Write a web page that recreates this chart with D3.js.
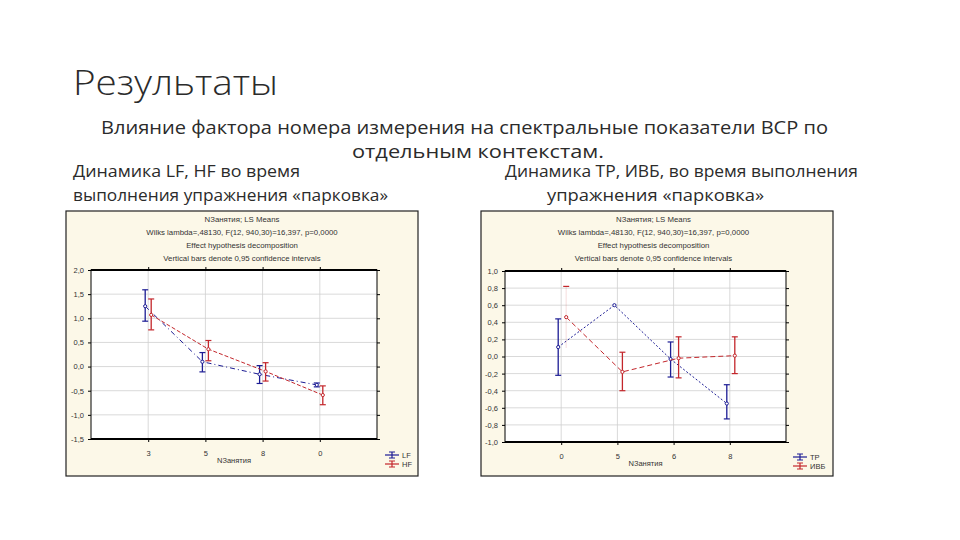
<!DOCTYPE html>
<html>
<head>
<meta charset="utf-8">
<script src="https://cdn.jsdelivr.net/npm/d3@7"></script>
<style>
  html, body { margin: 0; padding: 0; background: #fff; }
  svg { display: block; }
  .slide-text { font-family: "Open Sans", sans-serif; fill: #2b2b2b; }
  .chart-text { font-family: "Liberation Sans", Arial, sans-serif; fill: #333; }
  .grid line { stroke: #cfcfcf; stroke-width: 0.8; }
  .axis path { display: none; }
  .axis line { stroke: #000; }
  .axis text { font-family: "Liberation Sans", Arial, sans-serif; font-size: 7.5px; fill: #333; }
</style>
</head>
<body>
<svg id="slide" width="960" height="540"></svg>
<script>
/* slide texts */
const title = "Результаты";
const subtitleLines = [
  "Влияние фактора номера измерения на спектральные показатели ВСР по",
  "отдельным контекстам.",
];
const leftCaption = ["Динамика LF, HF во время", "выполнения упражнения «парковка»"];
const rightCaption = ["Динамика ТР, ИВБ, во время выполнения", "упражнения «парковка»"];

/* chart header (same on both pictures) */
const headerLines = [
  "NЗанятия; LS Means",
  "Wilks lambda=,48130, F(12, 940,30)=16,397, p=0,0000",
  "Effect hypothesis decomposition",
  "Vertical bars denote 0,95 confidence intervals",
];
const xLabel = "NЗанятия";

/* left chart: LF / HF */
const leftCategories = ["3", "5", "8", "0"];
const leftTicks = [2.0, 1.5, 1.0, 0.5, 0.0, -0.5, -1.0, -1.5];
const lfMean = [1.25, 0.10, -0.16, -0.38];
const lfLow = [0.94, -0.11, -0.35, -0.42];
const lfHigh = [1.59, 0.29, 0.02, -0.34];
const hfMean = [1.07, 0.36, -0.10, -0.59];
const hfLow = [0.76, 0.12, -0.30, -0.79];
const hfHigh = [1.40, 0.54, 0.08, -0.40];

/* right chart: ТР / ИВБ */
const rightCategories = ["0", "5", "6", "8"];
const rightTicks = [1.0, 0.8, 0.6, 0.4, 0.2, 0.0, -0.2, -0.4, -0.6, -0.8, -1.0];
const tpMean = [0.11, 0.60, -0.03, -0.55];
const tpLow = [-0.22, 0.60, -0.24, -0.73];
const tpHigh = [0.44, 0.60, 0.17, -0.33];
const ivbMean = [0.46, -0.18, -0.02, 0.01];
const ivbLow = [0.10, -0.40, -0.25, -0.20];
const ivbHigh = [0.82, 0.05, 0.23, 0.23];

const BLUE = "#1c1c94";
const RED = "#c3262b";
const fmt = (v) => d3.format(".1f")(v).replace(".", ",").replace("−", "-");

const svg = d3.select("#slide");

/* slide heading */
svg.append("text").attr("class", "slide-text")
  .attr("x", 73).attr("y", 95)
  .attr("font-size", 35).attr("font-weight", 300)
  .attr("textLength", 205).attr("lengthAdjust", "spacingAndGlyphs")
  .text(title);

svg.append("text").attr("class", "slide-text")
  .attr("x", 101).attr("y", 134).attr("font-size", 18)
  .attr("textLength", 727).attr("lengthAdjust", "spacingAndGlyphs")
  .text(subtitleLines[0]);
svg.append("text").attr("class", "slide-text")
  .attr("x", 352).attr("y", 158).attr("font-size", 18)
  .attr("textLength", 252).attr("lengthAdjust", "spacingAndGlyphs")
  .text(subtitleLines[1]);

const caps = [
  { t: leftCaption[0], x: 73, y: 177, w: 227 },
  { t: leftCaption[1], x: 73, y: 201, w: 315 },
  { t: rightCaption[0], x: 505, y: 177, w: 353 },
  { t: rightCaption[1], x: 547, y: 201, w: 217 },
];
caps.forEach((c) => {
  svg.append("text").attr("class", "slide-text")
    .attr("x", c.x).attr("y", c.y).attr("font-size", 16)
    .attr("textLength", c.w).attr("lengthAdjust", "spacingAndGlyphs")
    .text(c.t);
});

function drawPanel(cfg) {
  const g = svg.append("g");

  /* picture frame */
  g.append("rect")
    .attr("x", cfg.box[0]).attr("y", cfg.box[1])
    .attr("width", cfg.box[2]).attr("height", cfg.box[3])
    .attr("fill", "#fcf8e8").attr("stroke", "#222").attr("stroke-width", 1.2);

  const [L, T, R, B] = cfg.plot;
  const x = d3.scalePoint().domain(cfg.categories).range([L, R]).padding(1);
  const y = d3.scaleLinear().domain(cfg.yDomain).range([B, T]);

  g.append("rect").attr("x", L).attr("y", T).attr("width", R - L).attr("height", B - T)
    .attr("fill", "#fff");

  /* header */
  const cx = (L + R) / 2 + 8;
  headerLines.forEach((h, i) => {
    g.append("text").attr("class", "chart-text")
      .attr("x", cx).attr("y", cfg.box[1] + 11 + i * 13)
      .attr("text-anchor", "middle").attr("font-size", 7.8)
      .text(h);
  });

  /* grid */
  g.append("g").attr("class", "grid").selectAll("line")
    .data(cfg.ticks).join("line")
    .attr("x1", L).attr("x2", R).attr("y1", (d) => y(d)).attr("y2", (d) => y(d));
  g.append("g").attr("class", "grid").selectAll("line")
    .data(cfg.categories).join("line")
    .attr("y1", T).attr("y2", B).attr("x1", (d) => x(d)).attr("x2", (d) => x(d));

  /* axes */
  g.append("g").attr("class", "axis").attr("transform", `translate(${L},0)`)
    .call(d3.axisLeft(y).tickValues(cfg.ticks).tickFormat(fmt).tickSize(3).tickPadding(4));
  g.append("g").attr("class", "axis").attr("transform", `translate(${R},0)`)
    .call(d3.axisRight(y).tickValues(cfg.ticks).tickFormat("").tickSize(3));
  g.append("g").attr("class", "axis").attr("transform", `translate(0,${B})`)
    .call(d3.axisBottom(x).tickSize(3).tickPadding(9));
  g.append("g").attr("class", "axis").attr("transform", `translate(0,${T})`)
    .call(d3.axisTop(x).tickFormat("").tickSize(3));

  g.append("rect").attr("x", L).attr("y", T).attr("width", R - L).attr("height", B - T)
    .attr("fill", "none").attr("stroke", "#000").attr("stroke-width", 1);
  g.append("line").attr("x1", L).attr("x2", R).attr("y1", T).attr("y2", T)
    .attr("stroke", "#000").attr("stroke-width", 1.8);
  g.append("line").attr("x1", L).attr("x2", R).attr("y1", B).attr("y2", B)
    .attr("stroke", "#000").attr("stroke-width", 1.8);

  g.append("text").attr("class", "chart-text")
    .attr("x", cx - 8).attr("y", B + 24).attr("text-anchor", "middle")
    .attr("font-size", 7.5).text(xLabel);

  /* series */
  cfg.series.forEach((s) => {
    const pts = cfg.categories.map((c, i) => ({
      x: x(c) + s.dx, m: s.mean[i], lo: s.low[i], hi: s.high[i], i,
    }));
    g.append("path").datum(pts)
      .attr("fill", "none").attr("stroke", s.color).attr("stroke-width", 1)
      .attr("stroke-dasharray", s.dash)
      .attr("d", d3.line().x((d) => d.x).y((d) => y(d.m)));

    const eb = g.append("g").selectAll("g").data(pts.filter((d) => d.hi !== d.lo)).join("g");
    eb.append("line")
      .attr("x1", (d) => d.x).attr("x2", (d) => d.x)
      .attr("y1", (d) => y(d.lo)).attr("y2", (d) => y(d.hi))
      .attr("stroke", s.color).attr("stroke-width", 1.3)
      .attr("stroke-opacity", (d) => (s.faint && s.faint.includes(d.i) ? 0.12 : 1));
    eb.append("line")
      .attr("x1", (d) => d.x - 3).attr("x2", (d) => d.x + 3)
      .attr("y1", (d) => y(d.hi)).attr("y2", (d) => y(d.hi))
      .attr("stroke", s.color).attr("stroke-width", 1.2);
    eb.append("line")
      .attr("x1", (d) => d.x - 3).attr("x2", (d) => d.x + 3)
      .attr("y1", (d) => y(d.lo)).attr("y2", (d) => y(d.lo))
      .attr("stroke", s.color).attr("stroke-width", 1.2)
      .attr("stroke-opacity", (d) => (s.faint && s.faint.includes(d.i) ? 0 : 1));

    g.append("g").selectAll("circle").data(pts).join("circle")
      .attr("cx", (d) => d.x).attr("cy", (d) => y(d.m)).attr("r", 1.6)
      .attr("fill", "#fff").attr("stroke", s.color).attr("stroke-width", 1);
  });

  /* legend */
  const lx = cfg.legend[0], ly = cfg.legend[1];
  cfg.series.forEach((s, i) => {
    const yy = ly + i * 9;
    g.append("line").attr("x1", lx).attr("x2", lx + 14).attr("y1", yy).attr("y2", yy)
      .attr("stroke", s.color).attr("stroke-width", 1.2);
    g.append("line").attr("x1", lx + 7).attr("x2", lx + 7).attr("y1", yy - 3).attr("y2", yy + 3)
      .attr("stroke", s.color).attr("stroke-width", 1.2);
    g.append("line").attr("x1", lx + 4).attr("x2", lx + 10).attr("y1", yy - 3).attr("y2", yy - 3)
      .attr("stroke", s.color).attr("stroke-width", 1);
    g.append("line").attr("x1", lx + 4).attr("x2", lx + 10).attr("y1", yy + 3).attr("y2", yy + 3)
      .attr("stroke", s.color).attr("stroke-width", 1);
    g.append("text").attr("class", "chart-text")
      .attr("x", lx + 17).attr("y", yy + 2.5).attr("font-size", 7.5).text(s.name);
  });
}

drawPanel({
  box: [66, 211, 352, 265],
  plot: [91, 270, 377, 439],
  categories: leftCategories,
  ticks: leftTicks,
  yDomain: [-1.5, 2.0],
  legend: [385, 455],
  series: [
    { name: "LF", color: BLUE, dash: "5,3,1,3", dx: -3, mean: lfMean, low: lfLow, high: lfHigh },
    { name: "HF", color: RED, dash: "4,2", dx: 3, mean: hfMean, low: hfLow, high: hfHigh },
  ],
});

drawPanel({
  box: [481, 211, 352, 265],
  plot: [505, 271, 786, 442],
  categories: rightCategories,
  ticks: rightTicks,
  yDomain: [-1.0, 1.0],
  legend: [793, 457],
  series: [
    { name: "ТР", color: BLUE, dash: "2,2", dx: -3, mean: tpMean, low: tpLow, high: tpHigh },
    { name: "ИВБ", color: RED, dash: "5,3", dx: 5, mean: ivbMean, low: ivbLow, high: ivbHigh, faint: [0] },
  ],
});
</script>
</body>
</html>
